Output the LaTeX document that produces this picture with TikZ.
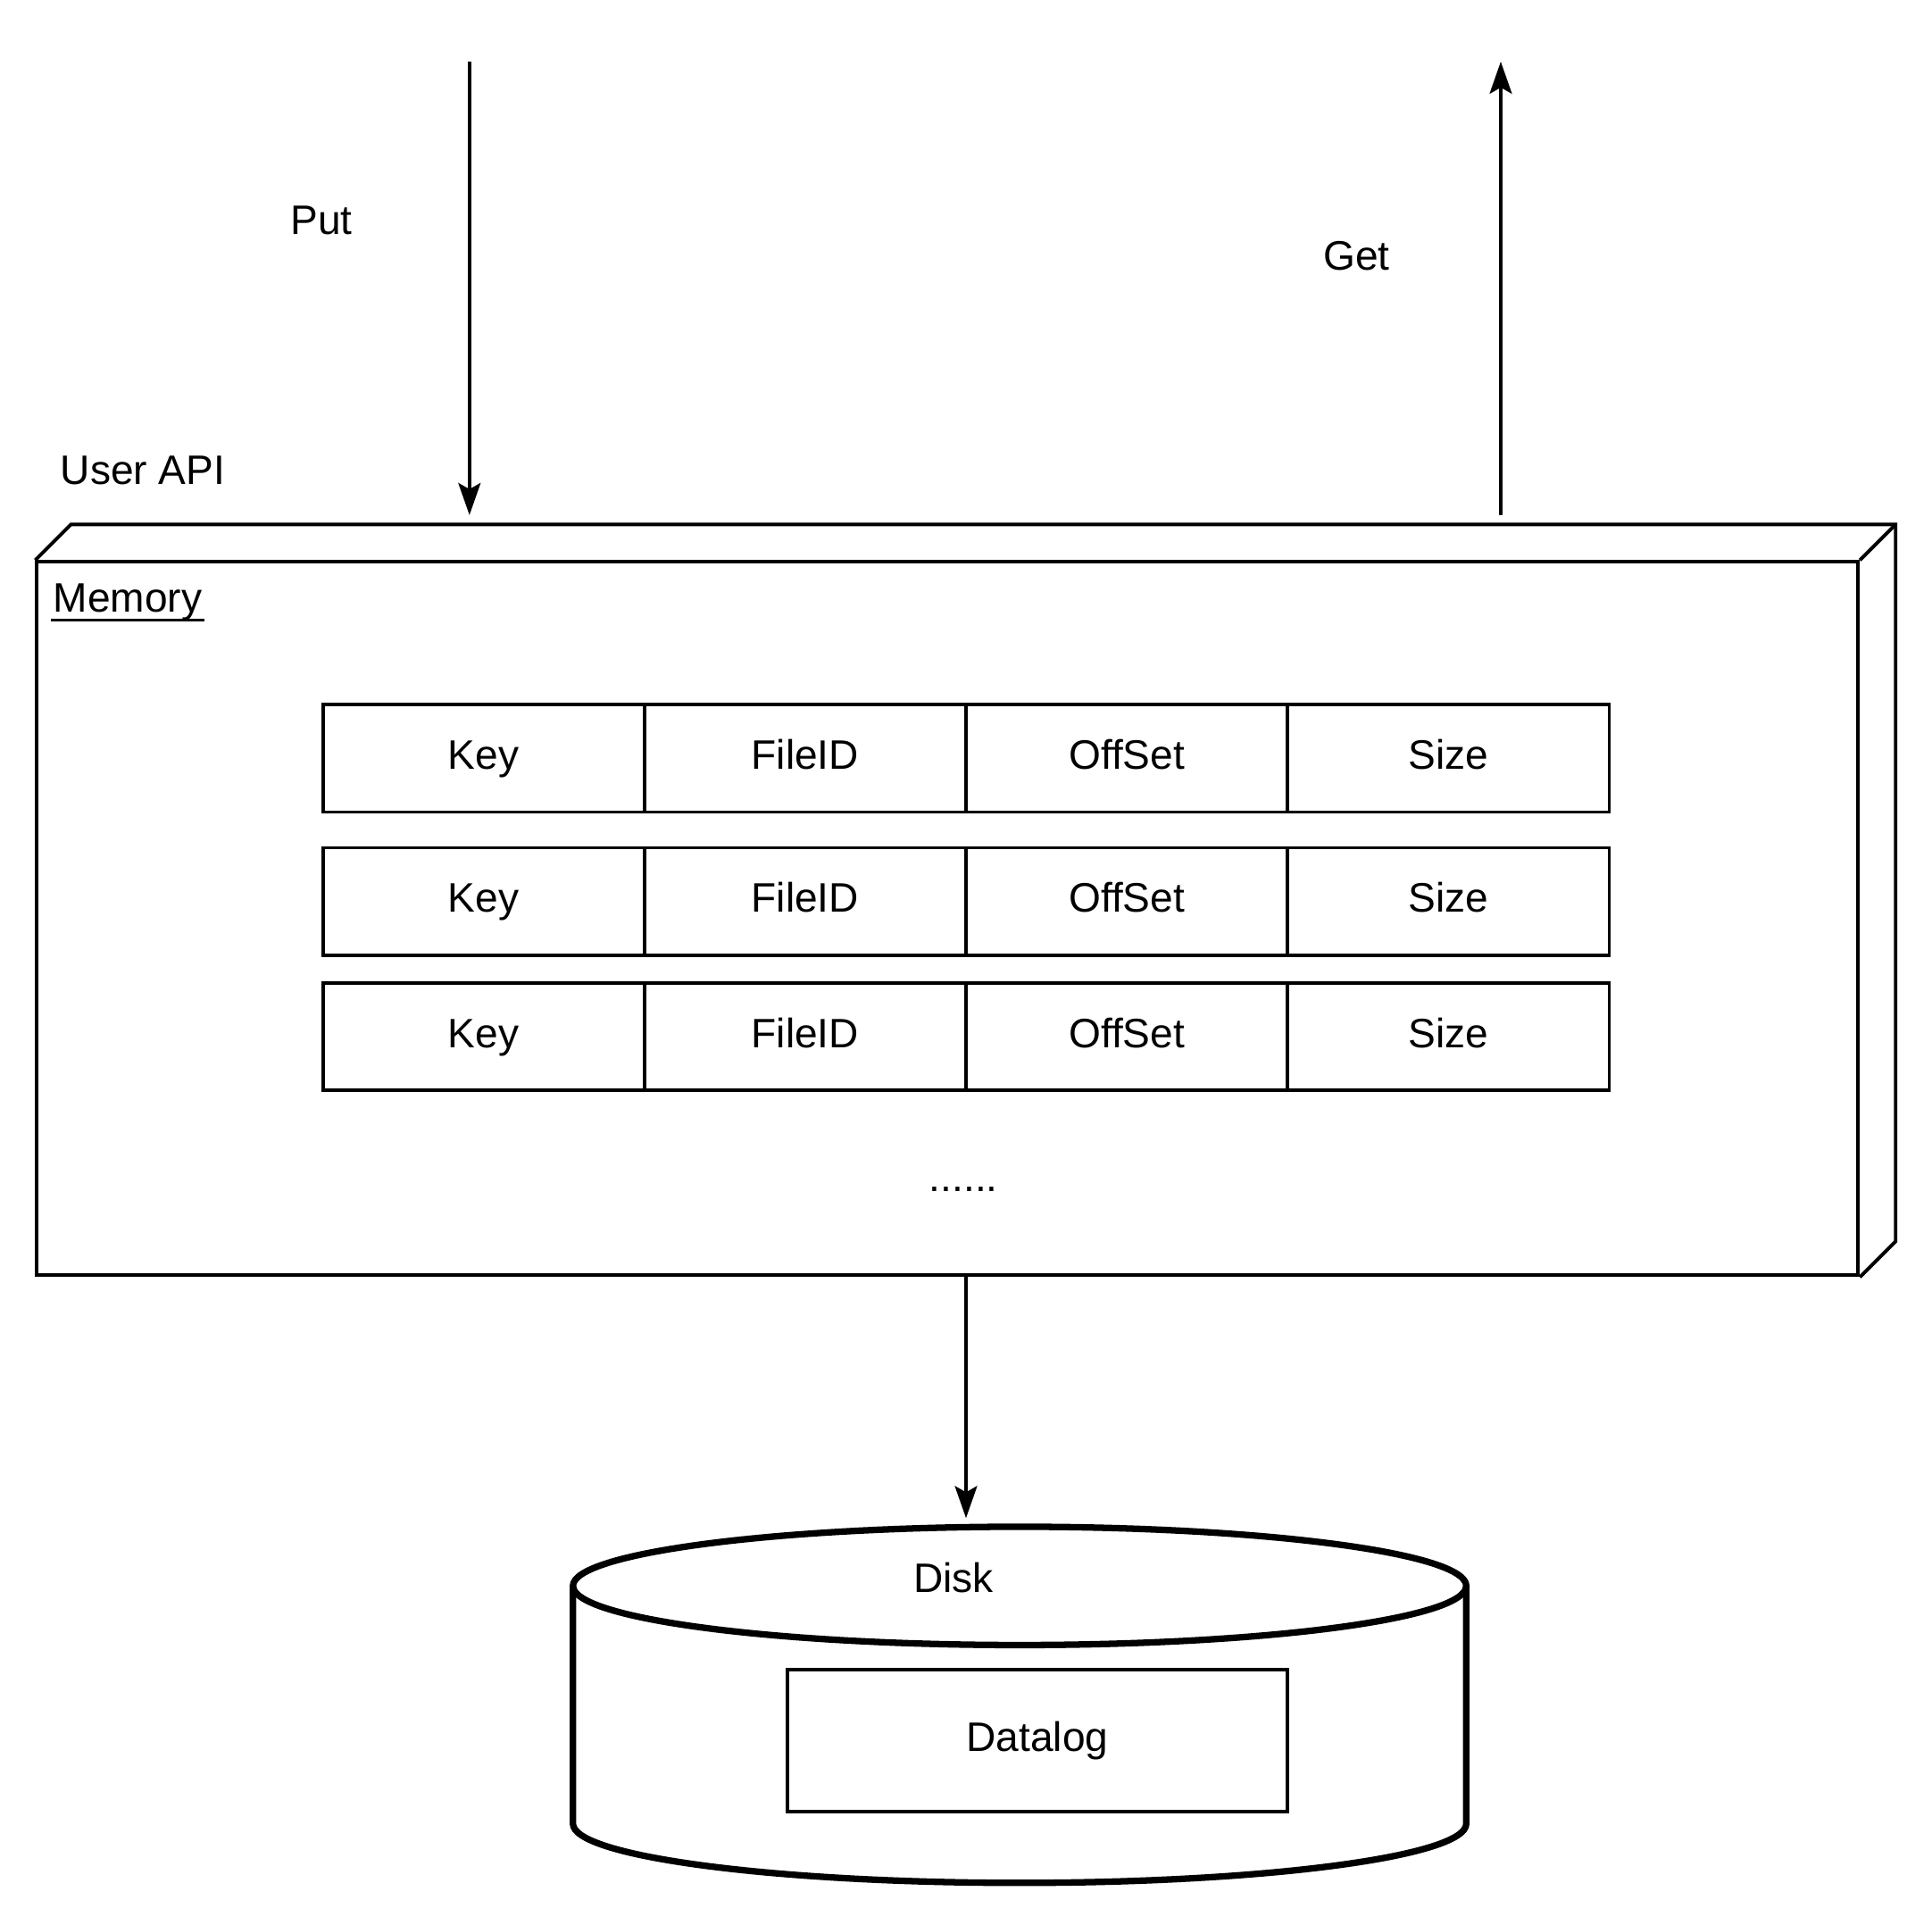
\documentclass[tikz,border=0pt]{standalone}
\usepackage{fontspec}
\setmainfont{Liberation Sans}
\usepackage{tikz}
\usetikzlibrary{arrows.meta}

\begin{document}
\begin{tikzpicture}[
    line width=1.6pt,
    font=\fontsize{19}{23}\selectfont,
    flow/.style={-{Stealth[length=0.52cm, width=0.36cm, inset=0.1cm]}},
    cell/.style={draw, minimum width=5.22cm, minimum height=1.74cm, inner sep=0pt,
        text height=0.96em, text depth=0em}
]
    \useasboundingbox (0,0) rectangle (31.36,-31.24);

    % Memory block with its 3d edge
    \node[draw, minimum width=29.56cm, minimum height=11.58cm, inner sep=0pt] (mem) at (15.38,-14.91) {};
    \draw (mem.north west) -- ++(0.58,0.58) -| ([shift={(0.58,0.58)}]mem.south east) -- (mem.south east);
    \draw (mem.north east) -- ++(0.58,0.58);
    \node[anchor=west] (memlbl) at (0.72,-9.78) {Memory};
    \draw[line width=1.3pt] ([xshift=0.1cm, yshift=-0.12cm]memlbl.base west) -- ([xshift=-0.1cm, yshift=-0.12cm]memlbl.base east);

    % Index entries
    \foreach \r/\y in {1/-12.31, 2/-14.63, 3/-16.83} {
        \foreach \t [count=\i] in {Key, FileID, OffSet, Size} {
            \node[cell] (c\r\i) at ({7.85+(\i-1)*5.22}, \y) {\t};
        }
    }
    \node (dots) at (15.64,-19.3) {......};

    % User API
    \node (api) at (2.32,-7.64) {User API};
    \node (putlbl) at (5.22,-3.58) {Put};
    \node (getlbl) at (22.02,-4.16) {Get};
    \coordinate (putsrc) at (7.62,-1.0);
    \coordinate (puttip) at (7.62,-8.36);
    \coordinate (getsrc) at (24.36,-8.36);
    \coordinate (gettip) at (24.36,-1.0);
    \draw[flow] (putsrc) -- (puttip);
    \draw[flow] (getsrc) -- (gettip);

    % Disk
    \begin{scope}[line width=3pt]
        \draw (9.3,-25.74) -- (9.3,-29.6) arc (180:360:7.25 and 0.96) -- (23.8,-25.74);
        \draw (16.55,-25.74) ellipse (7.25 and 0.96);
    \end{scope}
    \node (disk) at (15.48,-25.6) {Disk};
    \node[draw, minimum width=8.12cm, minimum height=2.3cm] (datalog) at (16.84,-28.25) {Datalog};

    \coordinate (diskin) at (15.68,-24.64);
    \draw[flow] (mem.south -| diskin) -- (diskin);
\end{tikzpicture}
\end{document}
